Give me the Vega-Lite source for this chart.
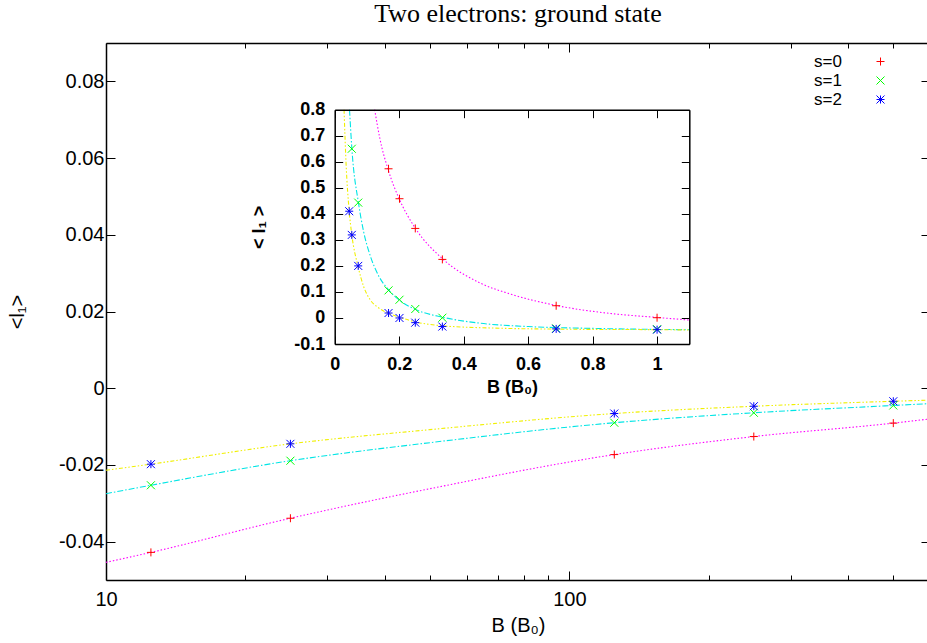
{
  "$schema": "https://vega.github.io/schema/vega-lite/v6.json",
  "width": 824,
  "height": 537,
  "autosize": "none",
  "padding": {"left": 106, "top": 43, "right": 0, "bottom": 63},
  "background": "white",
  "title": {"text": "Two electrons: ground state", "font": "Liberation Serif", "fontSize": 26, "fontWeight": "normal", "color": "black", "anchor": "middle", "offset": 16},
  "config": {
    "view": {"stroke": null},
    "axis": {"grid": false, "domainColor": "black", "domainWidth": 1.5, "tickColor": "black", "tickWidth": 1, "labelFont": "Liberation Sans", "labelFontSize": 20, "labelColor": "black", "titleFont": "Liberation Sans", "titleFontSize": 20, "titleColor": "black", "titleFontWeight": "normal", "labelFlush": false, "labelOverlap": false, "labelBound": false}
  },
  "datasets": {
    "main_pts": [
      {"s": "s=0", "B": 12.5, "l1": -0.0428}, {"s": "s=0", "B": 25, "l1": -0.0339}, {"s": "s=0", "B": 125, "l1": -0.0173}, {"s": "s=0", "B": 250, "l1": -0.0126}, {"s": "s=0", "B": 500, "l1": -0.0091},
      {"s": "s=1", "B": 12.5, "l1": -0.0253}, {"s": "s=1", "B": 25, "l1": -0.0189}, {"s": "s=1", "B": 125, "l1": -0.0090}, {"s": "s=1", "B": 250, "l1": -0.0064}, {"s": "s=1", "B": 500, "l1": -0.0045},
      {"s": "s=2", "B": 12.5, "l1": -0.0198}, {"s": "s=2", "B": 25, "l1": -0.0145}, {"s": "s=2", "B": 125, "l1": -0.0066}, {"s": "s=2", "B": 250, "l1": -0.0047}, {"s": "s=2", "B": 500, "l1": -0.0034}
    ],
    "main_curves": [
      {"fit": "c0", "B": 10, "l1": -0.0454}, {"fit": "c0", "B": 12.5, "l1": -0.0428}, {"fit": "c0", "B": 25, "l1": -0.0339}, {"fit": "c0", "B": 50, "l1": -0.0262}, {"fit": "c0", "B": 125, "l1": -0.0173}, {"fit": "c0", "B": 250, "l1": -0.0126}, {"fit": "c0", "B": 500, "l1": -0.0091}, {"fit": "c0", "B": 600, "l1": -0.0080},
      {"fit": "c1", "B": 10, "l1": -0.0275}, {"fit": "c1", "B": 12.5, "l1": -0.0253}, {"fit": "c1", "B": 25, "l1": -0.0189}, {"fit": "c1", "B": 50, "l1": -0.0142}, {"fit": "c1", "B": 125, "l1": -0.0090}, {"fit": "c1", "B": 250, "l1": -0.0064}, {"fit": "c1", "B": 500, "l1": -0.0045}, {"fit": "c1", "B": 600, "l1": -0.0040},
      {"fit": "c2", "B": 10, "l1": -0.0214}, {"fit": "c2", "B": 12.5, "l1": -0.0198}, {"fit": "c2", "B": 25, "l1": -0.0145}, {"fit": "c2", "B": 50, "l1": -0.0108}, {"fit": "c2", "B": 125, "l1": -0.0066}, {"fit": "c2", "B": 250, "l1": -0.0047}, {"fit": "c2", "B": 500, "l1": -0.0034}, {"fit": "c2", "B": 600, "l1": -0.0031}
    ],
    "inset_pts": [
      {"s": "s=0", "B": 0.167, "l1": 0.573}, {"s": "s=0", "B": 0.201, "l1": 0.458}, {"s": "s=0", "B": 0.25, "l1": 0.344}, {"s": "s=0", "B": 0.334, "l1": 0.225}, {"s": "s=0", "B": 0.687, "l1": 0.047}, {"s": "s=0", "B": 1.0, "l1": 0.001},
      {"s": "s=1", "B": 0.053, "l1": 0.65}, {"s": "s=1", "B": 0.073, "l1": 0.443}, {"s": "s=1", "B": 0.167, "l1": 0.106}, {"s": "s=1", "B": 0.201, "l1": 0.07}, {"s": "s=1", "B": 0.25, "l1": 0.0345}, {"s": "s=1", "B": 0.334, "l1": 0.001}, {"s": "s=1", "B": 0.687, "l1": -0.04}, {"s": "s=1", "B": 1.0, "l1": -0.043},
      {"s": "s=2", "B": 0.045, "l1": 0.41}, {"s": "s=2", "B": 0.053, "l1": 0.319}, {"s": "s=2", "B": 0.073, "l1": 0.2}, {"s": "s=2", "B": 0.167, "l1": 0.019}, {"s": "s=2", "B": 0.201, "l1": 0.0}, {"s": "s=2", "B": 0.25, "l1": -0.018}, {"s": "s=2", "B": 0.334, "l1": -0.033}, {"s": "s=2", "B": 0.687, "l1": -0.042}, {"s": "s=2", "B": 1.0, "l1": -0.045}
    ],
    "inset_curves": [
      {"fit": "c0", "B": 0.124, "l1": 0.8}, {"fit": "c0", "B": 0.14, "l1": 0.69}, {"fit": "c0", "B": 0.167, "l1": 0.565}, {"fit": "c0", "B": 0.201, "l1": 0.455}, {"fit": "c0", "B": 0.25, "l1": 0.345}, {"fit": "c0", "B": 0.334, "l1": 0.228}, {"fit": "c0", "B": 0.45, "l1": 0.135}, {"fit": "c0", "B": 0.55, "l1": 0.09}, {"fit": "c0", "B": 0.687, "l1": 0.048}, {"fit": "c0", "B": 0.85, "l1": 0.018}, {"fit": "c0", "B": 1.0, "l1": 0.002}, {"fit": "c0", "B": 1.1, "l1": -0.008},
      {"fit": "c1", "B": 0.046, "l1": 0.8}, {"fit": "c1", "B": 0.053, "l1": 0.655}, {"fit": "c1", "B": 0.074, "l1": 0.44}, {"fit": "c1", "B": 0.09, "l1": 0.33}, {"fit": "c1", "B": 0.11, "l1": 0.24}, {"fit": "c1", "B": 0.135, "l1": 0.165}, {"fit": "c1", "B": 0.167, "l1": 0.108}, {"fit": "c1", "B": 0.201, "l1": 0.068}, {"fit": "c1", "B": 0.25, "l1": 0.033}, {"fit": "c1", "B": 0.334, "l1": 0.003}, {"fit": "c1", "B": 0.45, "l1": -0.02}, {"fit": "c1", "B": 0.6, "l1": -0.033}, {"fit": "c1", "B": 0.8, "l1": -0.04}, {"fit": "c1", "B": 1.0, "l1": -0.044}, {"fit": "c1", "B": 1.1, "l1": -0.045},
      {"fit": "c2", "B": 0.029, "l1": 0.8}, {"fit": "c2", "B": 0.035, "l1": 0.6}, {"fit": "c2", "B": 0.045, "l1": 0.41}, {"fit": "c2", "B": 0.053, "l1": 0.32}, {"fit": "c2", "B": 0.072, "l1": 0.2}, {"fit": "c2", "B": 0.09, "l1": 0.12}, {"fit": "c2", "B": 0.11, "l1": 0.07}, {"fit": "c2", "B": 0.135, "l1": 0.04}, {"fit": "c2", "B": 0.167, "l1": 0.018}, {"fit": "c2", "B": 0.201, "l1": 0.003}, {"fit": "c2", "B": 0.25, "l1": -0.015}, {"fit": "c2", "B": 0.334, "l1": -0.03}, {"fit": "c2", "B": 0.5, "l1": -0.039}, {"fit": "c2", "B": 0.7, "l1": -0.043}, {"fit": "c2", "B": 1.0, "l1": -0.045}, {"fit": "c2", "B": 1.1, "l1": -0.046}
    ]
  },
  "resolve": {"scale": {"x": "independent", "y": "independent", "color": "independent", "shape": "independent", "strokeDash": "independent"}, "axis": {"x": "independent", "y": "independent"}, "legend": {"color": "independent", "shape": "independent"}},
  "layer": [
    {
      "data": {"name": "main_curves"},
      "mark": {"type": "line", "strokeWidth": 1.1, "interpolate": "monotone"},
      "encoding": {
        "x": {"field": "B", "type": "quantitative", "scale": {"type": "log", "domain": [10, 600], "nice": false},
          "axis": {"orient": "bottom", "values": [10, 20, 30, 40, 50, 60, 70, 80, 90, 100, 200, 300, 400, 500, 600],
            "labelExpr": "datum.value == 10 || datum.value == 100 ? '' + datum.value : ''",
            "tickSize": {"condition": {"test": "datum.value == 10 || datum.value == 100", "value": -9}, "value": -5},
            "labelPadding": 18, "title": "B (B₀)", "titlePadding": 2}},
        "y": {"field": "l1", "type": "quantitative", "scale": {"domain": [-0.05, 0.09], "nice": false, "zero": false},
          "axis": {"orient": "left", "values": [-0.04, -0.02, 0, 0.02, 0.04, 0.06, 0.08], "labelExpr": "'' + datum.value", "tickSize": -9, "labelPadding": 11, "title": "<l₁>", "titlePadding": 31}},
        "color": {"field": "fit", "type": "nominal", "scale": {"domain": ["c0", "c1", "c2"], "range": ["#ff00ff", "#00e5e5", "#f0f000"]}, "legend": null},
        "strokeDash": {"field": "fit", "type": "nominal", "scale": {"domain": ["c0", "c1", "c2"], "range": [[1.5, 2], [6, 2, 1.5, 2], [4, 2, 1.5, 2, 1.5, 2]]}, "legend": null}
      }
    },
    {
      "data": {"name": "main_pts"},
      "mark": {"type": "point", "filled": false, "size": 64, "strokeWidth": 1, "opacity": 1},
      "encoding": {
        "x": {"field": "B", "type": "quantitative", "scale": {"type": "log", "domain": [10, 600], "nice": false}, "axis": null},
        "y": {"field": "l1", "type": "quantitative", "scale": {"domain": [-0.05, 0.09], "nice": false, "zero": false}, "axis": null},
        "color": {"field": "s", "type": "nominal", "scale": {"domain": ["s=0", "s=1", "s=2"], "range": ["#ff0000", "#00ff00", "#0000ff"]},
          "legend": {"orient": "none", "legendX": 766, "legendY": 10, "title": null, "labelAlign": "right", "labelOffset": -47, "symbolSize": 64, "symbolStrokeWidth": 1, "labelFont": "Liberation Sans", "labelFontSize": 17, "labelColor": "black", "rowPadding": 1, "padding": 0}},
        "shape": {"field": "s", "type": "nominal", "scale": {"domain": ["s=0", "s=1", "s=2"], "range": ["M-1,0L1,0M0,-1L0,1", "M-1,-1L1,1M-1,1L1,-1", "M-1,0L1,0M0,-1L0,1M-1,-1L1,1M-1,1L1,-1"]},
          "legend": {"orient": "none", "legendX": 766, "legendY": 10, "title": null, "labelAlign": "right", "labelOffset": -47, "symbolSize": 64, "symbolStrokeWidth": 1, "labelFont": "Liberation Sans", "labelFontSize": 17, "labelColor": "black", "rowPadding": 1, "padding": 0}}
      }
    },
    {
      "data": {"name": "main_pts"},
      "mark": {"type": "point", "opacity": 0},
      "encoding": {
        "x": {"field": "B", "type": "quantitative", "scale": {"type": "log", "domain": [10, 600], "nice": false},
          "axis": {"orient": "top", "values": [10, 20, 30, 40, 50, 60, 70, 80, 90, 100, 200, 300, 400, 500, 600], "labels": false, "title": null,
            "tickSize": {"condition": {"test": "datum.value == 10 || datum.value == 100", "value": -9}, "value": -5}}},
        "y": {"field": "l1", "type": "quantitative", "scale": {"domain": [-0.05, 0.09], "nice": false, "zero": false},
          "axis": {"orient": "right", "values": [-0.04, -0.02, 0, 0.02, 0.04, 0.06, 0.08], "labels": false, "title": null, "tickSize": -9}}
      }
    },
    {
      "mark": {"type": "rect", "fill": "white", "stroke": null},
      "encoding": {
        "x": {"datum": 0, "type": "quantitative", "scale": {"domain": [0, 1.1], "range": [228.7, 583.3], "nice": false, "zero": false},
          "axis": {"orient": "bottom", "offset": -236, "zindex": 1, "values": [0, 0.2, 0.4, 0.6, 0.8, 1], "labelExpr": "'' + datum.value", "tickSize": -8, "labelPadding": 19, "labelFontSize": 18, "labelFontWeight": "bold", "title": "B (B₀)", "titleFontSize": 18, "titleFontWeight": "bold", "titlePadding": 5}},
        "x2": {"datum": 1.1},
        "y": {"datum": -0.1, "type": "quantitative", "scale": {"domain": [-0.1, 0.8], "range": [301, 66.7], "nice": false, "zero": false},
          "axis": {"orient": "left", "offset": -228.7, "zindex": 1, "values": [-0.1, 0, 0.1, 0.2, 0.3, 0.4, 0.5, 0.6, 0.7, 0.8], "labelExpr": "'' + datum.value", "tickSize": -8, "labelPadding": 18, "labelFontSize": 18, "labelFontWeight": "bold", "title": "< l₁ >", "titleFontSize": 18, "titleFontWeight": "bold", "titlePadding": 25}},
        "y2": {"datum": 0.8}
      }
    },
    {
      "mark": {"type": "rule", "color": "black", "strokeWidth": 1, "strokeDash": [3, 5]},
      "encoding": {
        "x": {"datum": 0, "type": "quantitative", "scale": {"domain": [0, 1.1], "range": [228.7, 583.3], "nice": false, "zero": false}, "axis": null},
        "x2": {"datum": 1.1},
        "y": {"datum": 0, "type": "quantitative", "scale": {"domain": [-0.1, 0.8], "range": [301, 66.7], "nice": false, "zero": false}, "axis": null}
      }
    },
    {
      "data": {"name": "inset_curves"},
      "mark": {"type": "line", "strokeWidth": 1.1, "interpolate": "monotone"},
      "encoding": {
        "x": {"field": "B", "type": "quantitative", "scale": {"domain": [0, 1.1], "range": [228.7, 583.3], "nice": false, "zero": false}, "axis": null},
        "y": {"field": "l1", "type": "quantitative", "scale": {"domain": [-0.1, 0.8], "range": [301, 66.7], "nice": false, "zero": false}, "axis": null},
        "color": {"field": "fit", "type": "nominal", "scale": {"domain": ["c0", "c1", "c2"], "range": ["#ff00ff", "#00e5e5", "#f0f000"]}, "legend": null},
        "strokeDash": {"field": "fit", "type": "nominal", "scale": {"domain": ["c0", "c1", "c2"], "range": [[1.5, 2], [6, 2, 1.5, 2], [4, 2, 1.5, 2, 1.5, 2]]}, "legend": null}
      }
    },
    {
      "data": {"name": "inset_pts"},
      "mark": {"type": "point", "filled": false, "size": 64, "strokeWidth": 1, "opacity": 1},
      "encoding": {
        "x": {"field": "B", "type": "quantitative", "scale": {"domain": [0, 1.1], "range": [228.7, 583.3], "nice": false, "zero": false}, "axis": null},
        "y": {"field": "l1", "type": "quantitative", "scale": {"domain": [-0.1, 0.8], "range": [301, 66.7], "nice": false, "zero": false}, "axis": null},
        "color": {"field": "s", "type": "nominal", "scale": {"domain": ["s=0", "s=1", "s=2"], "range": ["#ff0000", "#00ff00", "#0000ff"]}, "legend": null},
        "shape": {"field": "s", "type": "nominal", "scale": {"domain": ["s=0", "s=1", "s=2"], "range": ["M-1,0L1,0M0,-1L0,1", "M-1,-1L1,1M-1,1L1,-1", "M-1,0L1,0M0,-1L0,1M-1,-1L1,1M-1,1L1,-1"]}, "legend": null}
      }
    },
    {
      "data": {"name": "inset_pts"},
      "mark": {"type": "point", "opacity": 0},
      "encoding": {
        "x": {"field": "B", "type": "quantitative", "scale": {"domain": [0, 1.1], "range": [228.7, 583.3], "nice": false, "zero": false},
          "axis": {"orient": "top", "offset": -66.7, "zindex": 1, "values": [0, 0.2, 0.4, 0.6, 0.8, 1], "labels": false, "title": null, "tickSize": -8}},
        "y": {"field": "l1", "type": "quantitative", "scale": {"domain": [-0.1, 0.8], "range": [301, 66.7], "nice": false, "zero": false},
          "axis": {"orient": "right", "offset": -240.7, "zindex": 1, "values": [-0.1, 0, 0.1, 0.2, 0.3, 0.4, 0.5, 0.6, 0.7, 0.8], "labels": false, "title": null, "tickSize": -8}}
      }
    }
  ]
}
